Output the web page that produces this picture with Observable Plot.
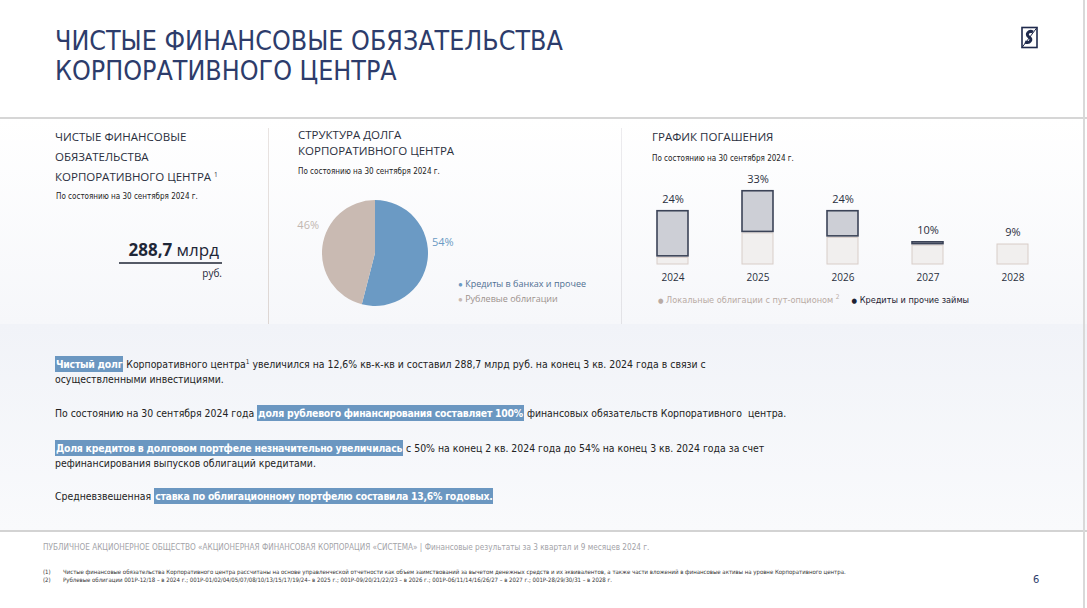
<!DOCTYPE html>
<html><head><meta charset="utf-8">
<script src="https://cdn.jsdelivr.net/npm/d3@7"></script>
<script src="https://cdn.jsdelivr.net/npm/@observablehq/plot@0.6"></script>
<style>
body{margin:0;background:#fff;}
#page{position:relative;width:1087px;height:608px;overflow:hidden;background:#fff;font-family:"Liberation Sans Narrow","DejaVu Sans Condensed",sans-serif;color:#222;}
.a{position:absolute;white-space:nowrap;}
.h{font-family:"Open Sans","Liberation Sans",sans-serif;font-size:11.5px;color:#2a2f3d;line-height:20px;}
.sub{font-size:8px;color:#222;}
.hl{background:#6b97c1;color:#fff;font-weight:bold;padding:2px 1px;letter-spacing:-0.25px;}
.p{font-size:10.4px;line-height:15px;color:#222;left:55px;}
sup.s{font-size:6.5px;line-height:0;vertical-align:4px;}
</style></head><body><div id="page">
<div class="a" style="left:0;top:0;width:1087px;height:117px;background:#fff;"></div>
<div class="a" style="left:0;top:117px;width:1087px;height:2px;background:#d6d6d6;"></div>
<div class="a" style="left:0;top:119px;width:1087px;height:205px;background:linear-gradient(#ffffff,#f6f7fa);"></div>
<div class="a" style="left:0;top:324px;width:1087px;height:206px;background:linear-gradient(#f1f3f8,#f9fafc);"></div>
<div class="a" style="left:0;top:530px;width:1087px;height:2px;background:#d3d3d3;"></div>
<div class="a" style="left:1083px;top:0;width:2px;height:608px;background:#d9d9d9;"></div>
<div class="a" style="left:268px;top:128px;width:1px;height:196px;background:linear-gradient(#e9e4e2,#ddd6d3);"></div>
<div class="a" style="left:621px;top:128px;width:1px;height:196px;background:linear-gradient(#ecebee,#e2e2e6);"></div>

<div class="a" id="title" style="left:55px;top:26px;font-size:26.6px;line-height:30px;color:#2d3c6b;">ЧИСТЫЕ ФИНАНСОВЫЕ ОБЯЗАТЕЛЬСТВА<br>КОРПОРАТИВНОГО ЦЕНТРА</div>
<svg class="a" style="left:1020px;top:26px" width="20" height="24" viewBox="0 0 20 24">
<rect x="2" y="1.5" width="15" height="20" fill="#fff" stroke="#1f2a4d" stroke-width="1.6"/>
<path d="M2 21.5 L17 1.5" stroke="#1f2a4d" stroke-width="1"/>
<path d="M13 6 C9 4,5 8,9 11 C13 13,10 18,5 16" fill="none" stroke="#1f2a4d" stroke-width="3"/>
</svg>

<div class="a h" style="left:55px;top:127px;">ЧИСТЫЕ ФИНАНСОВЫЕ<br>ОБЯЗАТЕЛЬСТВА<br>КОРПОРАТИВНОГО ЦЕНТРА <sup class="s">1</sup></div>
<div class="a sub" style="left:56px;top:192px;">По состоянию на 30 сентября 2024 г.</div>
<div class="a" id="big" style="right:868px;top:238px;font-family:'Open Sans',sans-serif;font-size:17px;color:#1f2738;"><b id="bigval"></b> млрд</div>
<div class="a" style="left:119px;top:262px;width:103px;height:2px;background:#555a66;"></div>
<div class="a" style="right:865px;top:266px;font-family:'Open Sans',sans-serif;font-size:10px;color:#1f2738;">руб.</div>

<div class="a h" style="left:298px;top:127px;line-height:16px;">СТРУКТУРА ДОЛГА<br>КОРПОРАТИВНОГО ЦЕНТРА</div>
<div class="a sub" style="left:298px;top:167px;">По состоянию на 30 сентября 2024 г.</div>
<div class="a" id="pie" style="left:300px;top:190px;"></div>
<div class="a" id="pieLegend" style="left:458px;top:276px;font-family:'Open Sans',sans-serif;font-size:9px;line-height:15px;"></div>

<div class="a h" style="left:652px;top:127px;">ГРАФИК ПОГАШЕНИЯ</div>
<div class="a sub" style="left:652px;top:154px;">По состоянию на 30 сентября 2024 г.</div>
<div class="a" id="bars" style="left:620px;top:160px;"></div>
<div class="a" id="barLegend" style="left:658px;top:295px;font-size:9.1px;"></div>

<div class="a p" style="top:357px;"><span class="hl">Чистый долг</span> Корпоративного центра<sup class="s">1</sup> увеличился на 12,6% кв-к-кв и составил 288,7 млрд руб. на конец 3 кв. 2024 года в связи с<br>осуществленными инвестициями.</div>
<div class="a p" style="top:406px;">По состоянию на 30 сентября 2024 года <span class="hl">доля рублевого финансирования составляет 100%</span> финансовых обязательств Корпоративного&nbsp; центра.</div>
<div class="a p" style="top:441px;"><span class="hl">Доля кредитов в долговом портфеле незначительно увеличилась</span> с 50% на конец 2 кв. 2024 года до 54% на конец 3 кв. 2024 года за счет<br>рефинансирования выпусков облигаций кредитами.</div>
<div class="a p" style="top:489px;">Средневзвешенная <span class="hl">ставка по облигационному портфелю составила 13,6% годовых.</span></div>

<div class="a" style="left:43px;top:542px;font-size:8.15px;color:#a3a3a8;">ПУБЛИЧНОЕ АКЦИОНЕРНОЕ ОБЩЕСТВО «АКЦИОНЕРНАЯ ФИНАНСОВАЯ КОРПОРАЦИЯ «СИСТЕМА» | Финансовые результаты за 3 квартал и 9 месяцев 2024 г.</div>
<div class="a" style="left:43px;top:568px;font-size:6px;line-height:7.5px;color:#333;">(1)<br>(2)</div>
<div class="a" style="left:63px;top:568px;font-size:6px;line-height:7.5px;color:#333;">Чистые финансовые обязательства Корпоративного центра рассчитаны на основе управленческой отчетности как объем заимствований за вычетом денежных средств и их эквивалентов, а также части вложений в финансовые активы на уровне Корпоративного центра.<br>Рублевые облигации 001Р-12/18 – в 2024 г.; 001Р-01/02/04/05/07/08/10/13/15/17/19/24– в 2025 г.; 001Р-09/20/21/22/23 – в 2026 г.; 001Р-06/11/14/16/26/27 – в 2027 г.; 001Р-28/29/30/31 – в 2028 г.</div>
<div class="a" style="left:1033px;top:573px;font-size:11px;color:#2d3c6b;">6</div>
</div>
<script>
// ---- data ----
const netDebtValue = "288,7";
const pieCategories = ["Кредиты в банках и прочее", "Рублевые облигации"];
const pieValues = [54, 46];
const pieLabels = ["54%", "46%"];
const pieColors = ["#6b9ac4", "#c9bab2"];
const pieLabelColors = ["#6b9ac4", "#c2b7b0"];
const pieLegendTextColors = ["#4f6f92", "#9c918c"];

const years = ["2024", "2025", "2026", "2027", "2028"];
const bondsShare = [3, 14, 12, 8.5, 9];     // Локальные облигации с пут-опционом
const creditsShare = [21, 19, 12, 1.5, 0];  // Кредиты и прочие займы
const totalLabels = ["24%", "33%", "24%", "10%", "9%"];
const barSeries = ["Локальные облигации с пут-опционом", "Кредиты и прочие займы"];
const barSeriesColors = ["#b9aba4", "#1d2233"];

document.getElementById("bigval").textContent = netDebtValue;

// ---- pie ----
const pieData = pieCategories.map((c, i) => ({category: c, value: pieValues[i], label: pieLabels[i], color: pieColors[i], labelColor: pieLabelColors[i]}));
const arcs = d3.pie().value(d => d.value).sort(null)(pieData);
const pieLabelPos = arcs.map(a => {
  const m = (a.startAngle + a.endAngle) / 2;
  return {x: 1.28 * Math.sin(m), y: 1.28 * Math.cos(m), label: a.data.label, color: a.data.labelColor};
});
const pie = Plot.plot({
  width: 200, height: 130,
  marginLeft: 22, marginRight: 72, marginTop: 10, marginBottom: 14,
  x: {domain: [-1, 1], axis: null},
  y: {domain: [-1, 1], axis: null},
  style: {background: "transparent", overflow: "visible"},
  marks: [
    (index, scales) => {
      const cx = scales.x(0), cy = scales.y(0), r = scales.x(1) - scales.x(0);
      const g = d3.create("svg:g").attr("transform", `translate(${cx},${cy})`);
      const arc = d3.arc().innerRadius(0).outerRadius(r);
      g.selectAll("path").data(arcs).join("path").attr("d", arc).attr("fill", d => d.data.color);
      return g.node();
    },
    Plot.text(pieLabelPos, {x: "x", y: "y", text: "label", fill: "color", fontSize: 11, dy: -20, fontFamily: "Open Sans, sans-serif"})
  ]
});
document.getElementById("pie").append(pie);
document.getElementById("pieLegend").innerHTML = pieCategories.map((c, i) =>
  `<div><span style="color:${pieColors[i]};font-size:8px">●</span> <span style="color:${pieLegendTextColors[i]}">${c}</span></div>`).join("");

// ---- bars ----
const bondsRows = years.map((y, i) => ({year: y, y1: 0, y2: bondsShare[i]}));
const creditRows = years.map((y, i) => ({year: y, y1: bondsShare[i], y2: bondsShare[i] + creditsShare[i]})).filter(d => d.y2 > d.y1);
const totalRows = years.map((y, i) => ({year: y, total: bondsShare[i] + creditsShare[i], label: totalLabels[i]}));
const bars = Plot.plot({
  width: 450, height: 130,
  marginLeft: 10.5, marginRight: 14.5, marginTop: 15.2, marginBottom: 26,
  x: {domain: years, paddingInner: 0.635, paddingOuter: 0.3175, label: null, tickSize: 0, tickPadding: 9},
  y: {domain: [0, 40], axis: null},
  style: {background: "transparent", fontFamily: "Open Sans, sans-serif", fontSize: "10px", color: "#2a2f3d", overflow: "visible"},
  marks: [
    Plot.barY(bondsRows, {x: "year", y1: "y1", y2: "y2", fill: "#f1efee", stroke: "#d8cdc8", strokeWidth: 1}),
    Plot.barY(creditRows, {x: "year", y1: "y1", y2: "y2", fill: "#cdcfd6", stroke: "#3b4357", strokeWidth: 1.6, insetBottom: 1.5}),
    Plot.text(totalRows, {x: "year", y: "total", text: "label", dy: -12, fontSize: 11, fill: "#2a2f3d"})
  ]
});
document.getElementById("bars").append(bars);
document.getElementById("barLegend").innerHTML = barSeries.map((s, i) =>
  `<span style="margin-right:${i === 0 ? 12 : 0}px"><span style="color:${barSeriesColors[i]};font-size:7px">●</span> <span style="color:${barSeriesColors[i]}">${s}${i === 0 ? ' <sup class="s">2</sup>' : ''}</span></span>`).join("");
</script>
</body></html>
